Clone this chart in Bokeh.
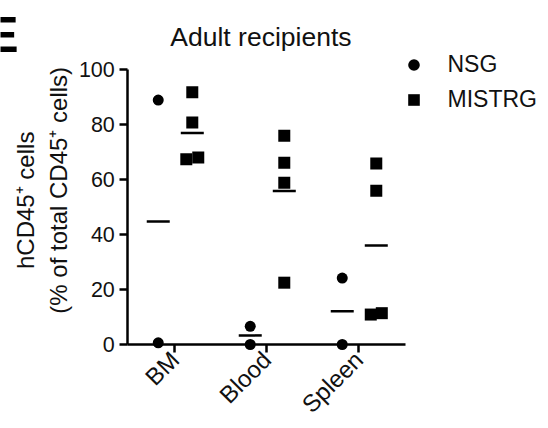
import math
import numpy as np
from bokeh.plotting import figure
from bokeh.models import Range1d, FixedTicker, Label, Legend, LegendItem, ColumnDataSource, LinearAxis
from bokeh.embed import file_html
from bokeh.resources import INLINE

# ---- data ----
categories = ["BM", "Blood", "Spleen"]
nsg_values = [[89.0, 0.6], [6.6, 0.0], [24.2, 0.0]]
mistrg_values = [[91.8, 80.8, 67.4, 68.1], [76.0, 66.2, 58.9, 22.5], [65.9, 56.0, 10.9, 11.4]]
mistrg_jitter = [[0.0, 0.0, -0.065, 0.065], [0.0, 0.0, 0.0, 0.0], [0.0, 0.0, -0.06, 0.06]]
nsg_jitter = [[0.0, 0.0], [0.0, 0.0], [0.0, 0.0]]
y_ticks = [0, 20, 40, 60, 80, 100]
series_names = ["NSG", "MISTRG"]
title_text = "Adult recipients"
NB = "\u00a0"
y_label = NB * 2 + "hCD45\u207a cells\n" + NB * 5 + "(% of total CD45\u207a cells)"
panel_letter = "E"

FONT = "Liberation Sans"
INK = "#111111"
group_offset = {"NSG": -0.18, "MISTRG": 0.19}
x_axis_span = (0.489, 3.508)

def build(values, jitter, off):
    xs, ys, mx, my = [], [], [], []
    for i, (vals, jit) in enumerate(zip(values, jitter)):
        for v, j in zip(vals, jit):
            xs.append(i + 1 + off + j)
            ys.append(v)
        mx.append(i + 1 + off)
        my.append(float(np.mean(vals)))
    return ColumnDataSource(dict(x=xs, y=ys)), ColumnDataSource(dict(x=mx, y=my))

nsg_src, nsg_mean = build(nsg_values, nsg_jitter, group_offset["NSG"])
mis_src, mis_mean = build(mistrg_values, mistrg_jitter, group_offset["MISTRG"])

p = figure(frame_width=540, frame_height=420,
           x_range=Range1d(-0.8946, 4.975), y_range=Range1d(-27.67, 125.23),
           output_backend="svg", toolbar_location=None,
           x_axis_location=None, y_axis_location=None)
p.min_border_left = 0
p.min_border_right = 0
p.min_border_top = 0
p.min_border_bottom = 0
p.outline_line_color = None
p.background_fill_color = "white"
p.border_fill_color = "white"
p.grid.grid_line_color = None

def style(ax):
    ax.axis_line_width = 2.5
    ax.axis_line_color = "black"
    ax.major_tick_line_width = 2.5
    ax.major_tick_line_color = "black"
    ax.major_tick_out = 8
    ax.major_tick_in = 0
    ax.minor_tick_line_color = None
    ax.major_label_text_font = FONT
    ax.major_label_text_color = INK
    ax.major_label_standoff = 5

# y axis, drawn at the left end of the x axis
yaxis = LinearAxis(ticker=FixedTicker(ticks=y_ticks), bounds=(0, 100),
                   fixed_location=x_axis_span[0])
style(yaxis)
yaxis.major_label_text_font_size = "21.5px"
yaxis.axis_label = y_label
yaxis.axis_label_text_font = FONT
yaxis.axis_label_text_font_size = "24px"
yaxis.axis_label_text_font_style = "normal"
yaxis.axis_label_text_color = INK
yaxis.axis_label_standoff = 4
p.add_layout(yaxis, "left")

# x axis at y = 0
xaxis = LinearAxis(ticker=FixedTicker(ticks=[1, 2, 3]), fixed_location=0,
                   bounds=x_axis_span,
                   major_label_overrides={i + 1: c for i, c in enumerate(categories)})
style(xaxis)
xaxis.major_label_orientation = math.pi / 4
xaxis.major_label_text_font_size = "24px"
xaxis.major_label_standoff = 3
p.add_layout(xaxis, "below")

r_nsg = p.scatter("x", "y", source=nsg_src, marker="circle", size=11,
                  fill_color="black", line_color=None)
r_mis = p.scatter("x", "y", source=mis_src, marker="square", size=12,
                  fill_color="black", line_color=None)
p.scatter("x", "y", source=nsg_mean, marker="dash", size=23, line_width=2.5, line_color="black")
p.scatter("x", "y", source=mis_mean, marker="dash", size=23, line_width=2.5, line_color="black")

legend = Legend(items=[LegendItem(label=series_names[0], renderers=[r_nsg]),
                       LegendItem(label=series_names[1], renderers=[r_mis])],
                location=(398.5, 304))
legend.padding = 0
legend.margin = 0
legend.border_line_color = None
legend.background_fill_alpha = 0
legend.glyph_width = 29
legend.glyph_height = 33
legend.label_height = 33
legend.label_standoff = 20
legend.spacing = 2
legend.label_text_font = FONT
legend.label_text_font_size = "23px"
legend.label_text_color = INK
p.add_layout(legend)

p.add_layout(Label(x=1.936, y=111.9, text=title_text, text_align="center",
                   text_baseline="alphabetic", text_font=FONT, text_font_size="26.5px",
                   text_color=INK))
p.add_layout(Label(x=-0.699, y=112.5, text=panel_letter, text_align="right",
                   text_baseline="alphabetic", text_font=FONT, text_font_size="50px",
                   text_font_style="bold", text_color="black"))

open("out.html", "w").write(file_html(p, INLINE))
